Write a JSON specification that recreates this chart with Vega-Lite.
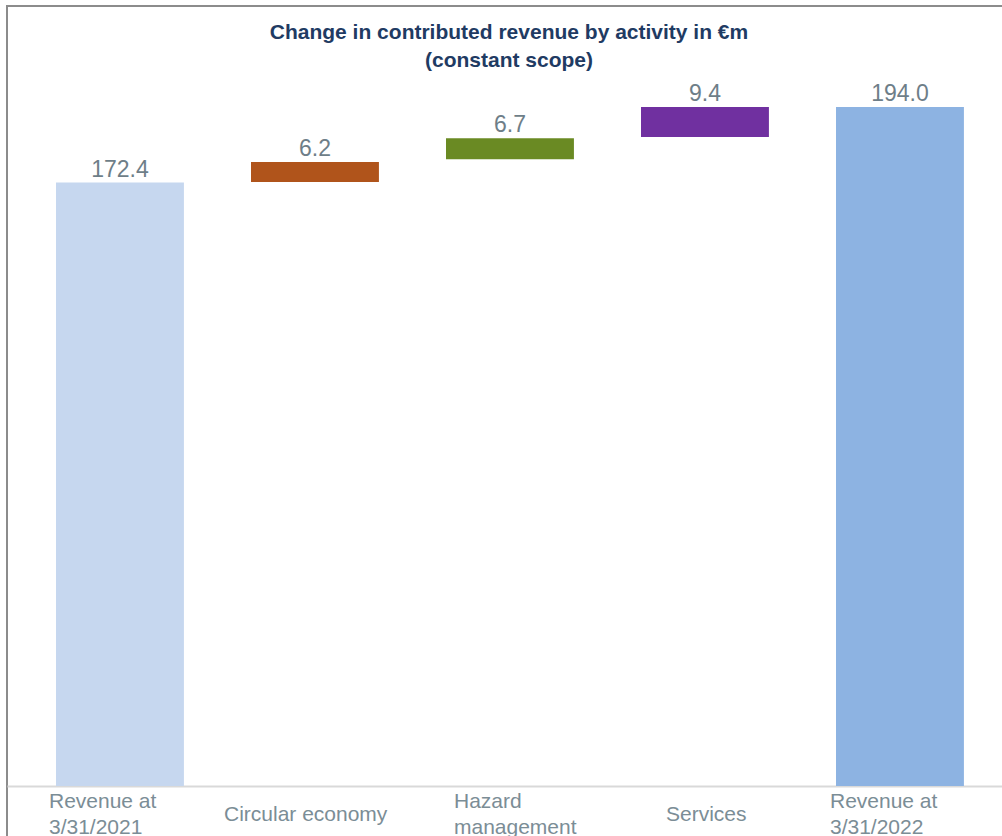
{
  "$schema": "https://vega.github.io/schema/vega-lite/v6.json",
  "autosize": "none",
  "padding": {"left": 7, "top": 6, "right": 0, "bottom": 0},
  "width": 998,
  "height": 833,
  "background": "white",
  "config": {
    "view": {"stroke": "#8c8c8c", "strokeWidth": 2},
    "font": "Liberation Sans"
  },
  "title": {
    "text": ["Change in contributed revenue by activity in €m", "(constant scope)"],
    "font": "Liberation Sans",
    "fontSize": 21,
    "fontWeight": "bold",
    "color": "#1f3b63",
    "lineHeight": 28,
    "baseline": "top",
    "anchor": "middle",
    "offset": -65,
    "dx": 3
  },
  "data": {
    "values": [
      {"activity": "Revenue at 3/31/2021", "start": 0, "end": 172.4, "label": "172.4", "kind": "start"},
      {"activity": "Circular economy", "start": 172.6, "end": 178.3, "label": "6.2", "kind": "circular"},
      {"activity": "Hazard management", "start": 179.1, "end": 185.1, "label": "6.7", "kind": "hazard"},
      {"activity": "Services", "start": 185.4, "end": 194.0, "label": "9.4", "kind": "services"},
      {"activity": "Revenue at 3/31/2022", "start": 0, "end": 194.0, "label": "194.0", "kind": "end"}
    ]
  },
  "encoding": {
    "x": {
      "field": "activity",
      "type": "nominal",
      "sort": null,
      "scale": {"paddingInner": 0.344, "paddingOuter": 0.231, "align": 0.544},
      "axis": {
        "title": null,
        "orient": "bottom",
        "offset": -53,
        "ticks": false,
        "domainColor": "#d9d9d9",
        "domainWidth": 2,
        "labelAngle": 0,
        "labelFont": "Liberation Sans",
        "labelFontSize": 21,
        "labelColor": "#7b8d96",
        "labelPadding": {
          "condition": {"test": "datum.value == 'Circular economy' || datum.value == 'Services'", "value": 17},
          "value": 4
        },
        "labelLineHeight": 26,
        "labelAlign": "left",
        "labelOffset": {
          "condition": [
            {"test": "datum.value == 'Revenue at 3/31/2021'", "value": -71},
            {"test": "datum.value == 'Circular economy'", "value": -91},
            {"test": "datum.value == 'Hazard management'", "value": -56},
            {"test": "datum.value == 'Services'", "value": -39}
          ],
          "value": -70
        },
        "labelExpr": "datum.value == 'Hazard management' ? ['Hazard', 'management'] : indexof(datum.value, 'Revenue at') == 0 ? ['Revenue at', substring(datum.value, 11)] : datum.value"
      }
    }
  },
  "layer": [
    {
      "mark": {"type": "bar"},
      "encoding": {
        "y": {
          "field": "start",
          "type": "quantitative",
          "scale": {"domain": [-15.143, 222.857], "nice": false, "zero": false},
          "axis": null
        },
        "y2": {"field": "end"},
        "color": {
          "field": "kind",
          "type": "nominal",
          "scale": {
            "domain": ["start", "circular", "hazard", "services", "end"],
            "range": ["#c6d7ef", "#b0541b", "#6a8a23", "#7030a0", "#8db3e2"]
          },
          "legend": null
        }
      }
    },
    {
      "mark": {"type": "text", "baseline": "alphabetic", "dy": -6, "fontSize": 23, "color": "#6e7e88", "font": "Liberation Sans"},
      "encoding": {
        "y": {"field": "end", "type": "quantitative"},
        "text": {"field": "label", "type": "nominal"}
      }
    }
  ]
}
